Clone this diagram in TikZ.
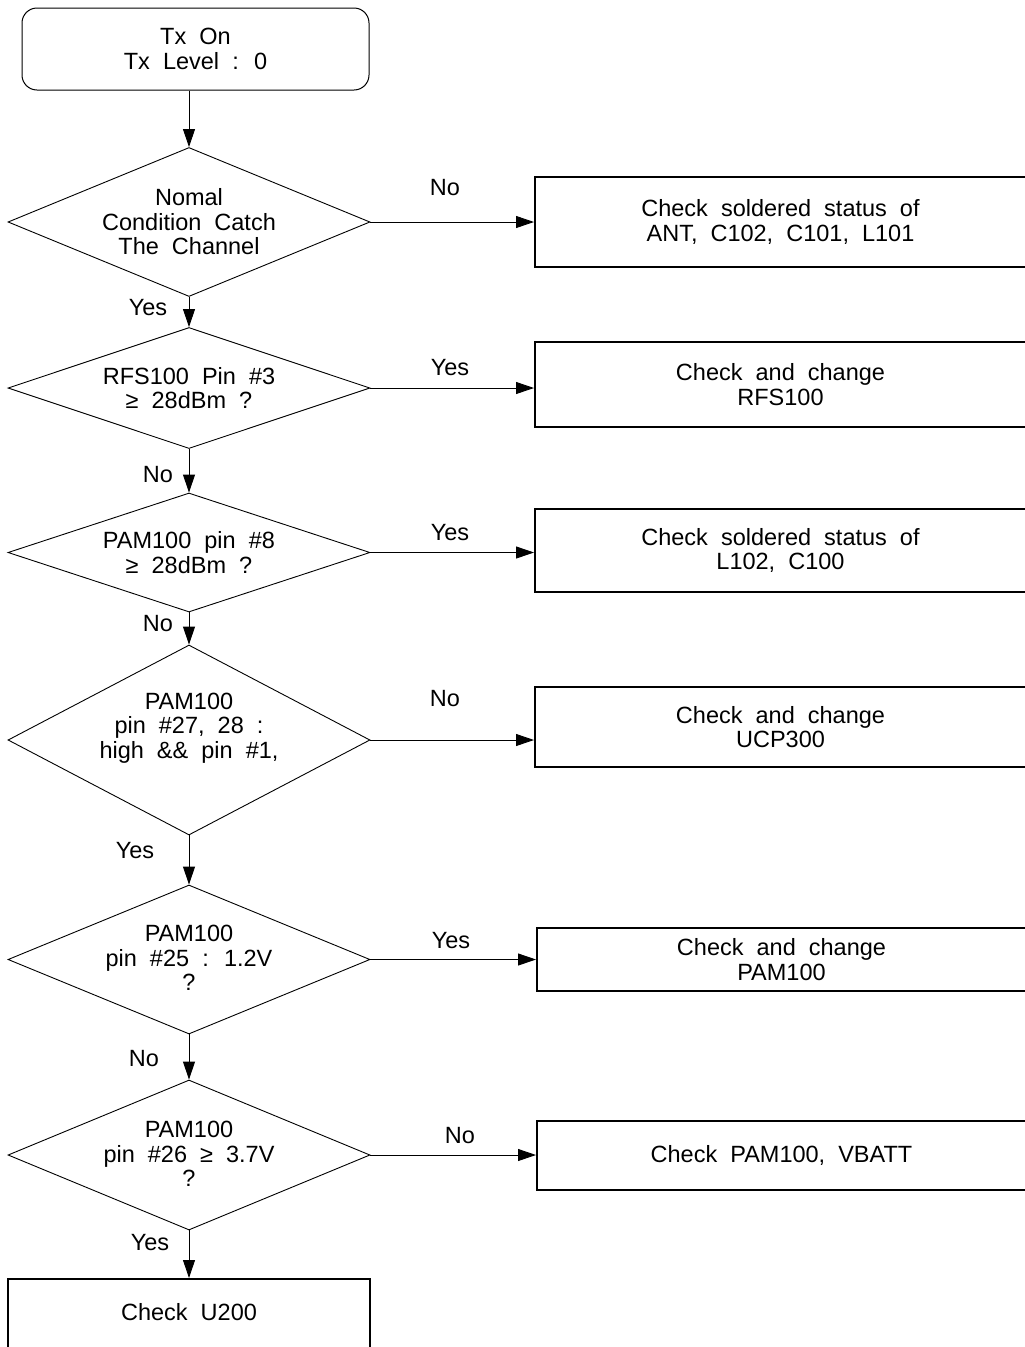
\documentclass[tikz,border=0pt]{standalone}
\usepackage{fontspec}
\setmainfont{Liberation Sans}[WordSpace=2]
\usetikzlibrary{shapes.geometric,arrows.meta}
\begin{document}
\begin{tikzpicture}[x=1pt,y=-1pt,
  txt/.style={font=\fontsize{23.5}{24.5}\selectfont, align=center, inner sep=0pt},
  dia/.style={draw, shape=diamond, minimum width=362pt, inner sep=0pt, line width=0.9pt},
  rbox/.style={draw, line width=2pt, minimum width=491pt, inner sep=0pt, txt},
  arr/.style={line width=0.9pt, -{Triangle[length=18pt,width=12pt]}},
  lbl/.style={txt}]
\useasboundingbox (0,0) rectangle (1025,1347);

% start
\node[draw, rounded corners=15pt, line width=1pt, minimum width=347pt, minimum height=82pt, txt] (start) at (195.5,49) {Tx On\\Tx Level : 0};

% diamonds
\node[dia, minimum height=149pt] (d1) at (189,222) {};
\node[txt] (d1t) at (189,222) {Nomal\\Condition Catch\\The Channel};
\node[dia, minimum height=121pt] (d2) at (189,388) {};
\node[txt] (d2t) at (189,388) {RFS100 Pin \#3\\≥ 28dBm ?};
\node[dia, minimum height=119pt] (d3) at (189,552.5) {};
\node[txt] (d3t) at (189,552.5) {PAM100 pin \#8\\≥ 28dBm ?};
\node[dia, minimum height=190pt] (d4) at (189,740) {};
\node[txt] (d4t) at (189,728) {PAM100\\pin \#27, 28 :\\high \&\& pin \#1,};
\node[dia, minimum height=149pt] (d5) at (189,959.5) {};
\node[txt] (d5t) at (189,958) {PAM100\\pin \#25 : 1.2V\\?};
\node[dia, minimum height=150pt] (d6) at (189,1155) {};
\node[txt] (d6t) at (189,1154) {PAM100\\pin \#26 ≥ 3.7V\\?};

% boxes
\node[rbox, minimum height=90pt] (b1) at (780.5,222) {Check soldered status of\\ANT, C102, C101, L101};
\node[rbox, minimum height=85pt] (b2) at (780.5,384.5) {Check and change\\RFS100};
\node[rbox, minimum height=83pt] (b3) at (780.5,550.5) {Check soldered status of\\L102, C100};
\node[rbox, minimum height=80pt] (b4) at (780.5,727) {Check and change\\UCP300};
\node[rbox, minimum width=489pt, minimum height=63pt] (b5) at (781.5,959.5) {Check and change\\PAM100};
\node[rbox, minimum width=489pt, minimum height=69pt] (b6) at (781.5,1155.5) {Check PAM100, VBATT};
\node[draw, line width=2pt, minimum width=362pt, minimum height=80pt, inner sep=0pt, anchor=north] (b7) at (189,1278) {};
\node[txt] (b7t) at (189,1312) {Check U200};

% vertical connectors
\draw[arr] (start.south -| d1.north) -- (d1.north);
\draw[arr] (d1.south) -- (d2.north);
\draw[arr] (d2.south) -- (d3.north);
\draw[arr] (d3.south) -- (d4.north);
\draw[arr] (d4.south) -- (d5.north);
\draw[arr] (d5.south) -- (d6.north);
\draw[arr] (d6.south) -- (b7.north);

% horizontal connectors
\draw[arr] (d1.east) -- (d1.east -| b1.west);
\draw[arr] (d2.east) -- (d2.east -| b2.west);
\draw[arr] (d3.east) -- (d3.east -| b3.west);
\draw[arr] (d4.east) -- (d4.east -| b4.west);
\draw[arr] (d5.east) -- (d5.east -| b5.west);
\draw[arr] (d6.east) -- (d6.east -| b6.west);

% labels
\node[lbl] (l1) at (445,188) {No};
\node[lbl] (l2) at (450,368) {Yes};
\node[lbl] (l3) at (450,533) {Yes};
\node[lbl] (l4) at (445,699) {No};
\node[lbl] (l5) at (451,941) {Yes};
\node[lbl] (l6) at (460,1136) {No};
\node[lbl] (v1) at (148,308) {Yes};
\node[lbl] (v2) at (158,475) {No};
\node[lbl] (v3) at (158,624) {No};
\node[lbl] (v4) at (135,851) {Yes};
\node[lbl] (v5) at (144,1059) {No};
\node[lbl] (v6) at (150,1243) {Yes};
\end{tikzpicture}
\end{document}
